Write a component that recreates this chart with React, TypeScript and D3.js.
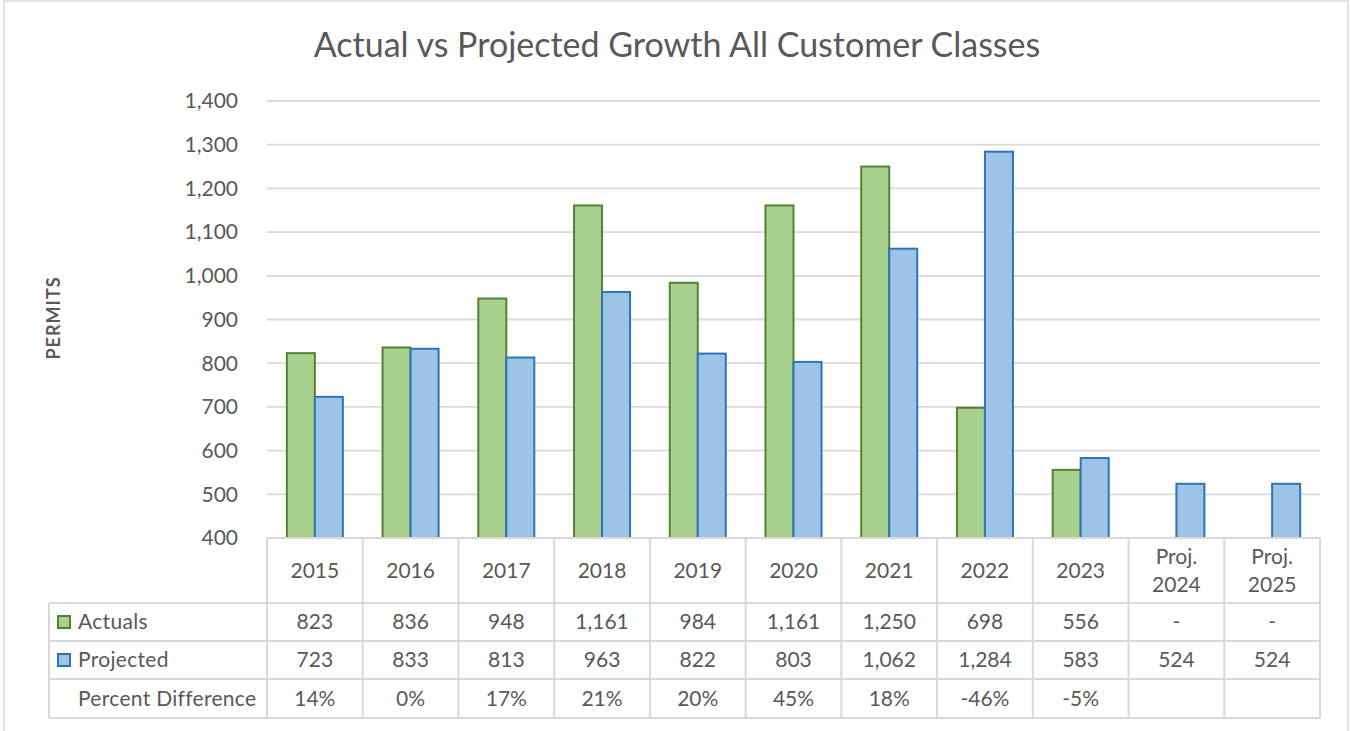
import React, { useEffect, useRef } from 'react';
import * as d3 from 'd3';

const categories = ['2015', '2016', '2017', '2018', '2019', '2020', '2021', '2022', '2023', 'Proj. 2024', 'Proj. 2025'];
const actuals: (number | null)[] = [823, 836, 948, 1161, 984, 1161, 1250, 698, 556, null, null];
const projected: number[] = [723, 833, 813, 963, 822, 803, 1062, 1284, 583, 524, 524];
const percentDiff = ['14%', '0%', '17%', '21%', '20%', '45%', '18%', '-46%', '-5%', '', ''];
const yTicks = [400, 500, 600, 700, 800, 900, 1000, 1100, 1200, 1300, 1400];
const seriesNames = ['Actuals', 'Projected'];

const W = 1351;
const H = 731;
const FONT = 'Lato, "Open Sans", sans-serif';
const TEXT = '#595959';
const LINE = '#D9D9D9';
const GREEN = { fill: '#A9D18E', stroke: '#548235' };
const BLUE = { fill: '#9DC3E6', stroke: '#2E75B6' };

const App: React.FC = () => {
  const svgRef = useRef<SVGSVGElement>(null);

  useEffect(() => {
    if (!svgRef.current) return;
    const svg = d3.select(svgRef.current);
    svg.selectAll('*').remove();

    const plot = { left: 267, right: 1320, top: 101, bottom: 538 };
    const rows = { header: 603, actuals: 641, projected: 679, percent: 718 };
    const tableLeft = 49;

    // outer chart frame
    svg.append('rect')
      .attr('x', 4).attr('y', 1)
      .attr('width', 1344).attr('height', H + 10)
      .attr('fill', '#fff')
      .attr('stroke', LINE)
      .attr('stroke-width', 1.5);

    const x = d3.scaleBand<string>()
      .domain(categories)
      .range([plot.left, plot.right])
      .paddingInner(0)
      .paddingOuter(0);
    const bw = x.bandwidth();
    const barW = bw * 0.2925;
    const xs = d3.scaleBand<string>()
      .domain(seriesNames)
      .range([bw / 2 - barW, bw / 2 + barW]);

    const y = d3.scaleLinear().domain([400, 1400]).range([plot.bottom, plot.top]);

    // title
    svg.append('text')
      .attr('x', 677).attr('y', 57)
      .attr('text-anchor', 'middle')
      .style('font-family', FONT)
      .style('font-size', '34px')
      .style('fill', TEXT)
      .text('Actual vs Projected Growth All Customer Classes');

    // gridlines
    svg.append('g')
      .selectAll('line')
      .data(yTicks.filter(t => t > 400))
      .enter()
      .append('line')
      .attr('x1', plot.left).attr('x2', plot.right)
      .attr('y1', d => y(d)).attr('y2', d => y(d))
      .attr('stroke', LINE)
      .attr('stroke-width', 1.8);

    // y tick labels
    svg.append('g')
      .selectAll('text')
      .data(yTicks)
      .enter()
      .append('text')
      .attr('x', 238)
      .attr('y', d => y(d))
      .attr('dy', '0.35em')
      .attr('text-anchor', 'end')
      .style('font-family', FONT)
      .style('font-size', '21px')
      .style('fill', TEXT)
      .text(d => d3.format(',')(d));

    // y axis title
    svg.append('text')
      .attr('transform', `translate(60, 318) rotate(-90)`)
      .attr('text-anchor', 'middle')
      .style('font-family', FONT)
      .style('font-size', '18px')
      .style('font-weight', 'bold')
      .style('fill', TEXT)
      .style('letter-spacing', '1px')
      .text('PERMITS');

    // bars
    const bars = svg.append('g');
    categories.forEach((c, i) => {
      const a = actuals[i];
      const p = projected[i];
      if (a !== null) {
        bars.append('rect')
          .attr('x', (x(c) || 0) + (xs('Actuals') || 0))
          .attr('y', y(a))
          .attr('width', xs.bandwidth())
          .attr('height', plot.bottom - y(a))
          .attr('fill', GREEN.fill)
          .attr('stroke', GREEN.stroke)
          .attr('stroke-width', 2);
      }
      bars.append('rect')
        .attr('x', (x(c) || 0) + (xs('Projected') || 0))
        .attr('y', y(p))
        .attr('width', xs.bandwidth())
        .attr('height', plot.bottom - y(p))
        .attr('fill', BLUE.fill)
        .attr('stroke', BLUE.stroke)
        .attr('stroke-width', 2);
    });

    // data table
    const table = svg.append('g');
    const hLines = [
      { y: plot.bottom, x1: plot.left },
      { y: rows.header, x1: tableLeft },
      { y: rows.actuals, x1: tableLeft },
      { y: rows.projected, x1: tableLeft },
      { y: rows.percent, x1: tableLeft },
    ];
    hLines.forEach(l => {
      table.append('line')
        .attr('x1', l.x1).attr('x2', plot.right)
        .attr('y1', l.y).attr('y2', l.y)
        .attr('stroke', LINE).attr('stroke-width', 2);
    });
    table.append('line')
      .attr('x1', tableLeft).attr('x2', tableLeft)
      .attr('y1', rows.header).attr('y2', rows.percent)
      .attr('stroke', LINE).attr('stroke-width', 2);
    [...categories.map(c => x(c) || 0), plot.right].forEach(vx => {
      table.append('line')
        .attr('x1', vx).attr('x2', vx)
        .attr('y1', plot.bottom).attr('y2', rows.percent)
        .attr('stroke', LINE).attr('stroke-width', 2);
    });

    const cellText = (tx: number, ty: number, s: string, anchor = 'middle', spacing = 0) =>
      table.append('text')
        .attr('x', tx).attr('y', ty)
        .attr('dy', '0.35em')
        .attr('text-anchor', anchor)
        .style('font-family', FONT)
        .style('font-size', '21px')
        .style('letter-spacing', `${spacing}px`)
        .style('fill', TEXT)
        .text(s);

    const mid = (a: number, b: number) => (a + b) / 2;
    const headerMid = mid(plot.bottom, rows.header);
    categories.forEach((c, i) => {
      const cx = (x(c) || 0) + bw / 2;
      if (c.startsWith('Proj.')) {
        const parts = c.split(' ');
        cellText(cx, headerMid - 14, parts[0]);
        cellText(cx, headerMid + 14, parts[1]);
      } else {
        cellText(cx, headerMid, c);
      }
      const a = actuals[i];
      cellText(cx, mid(rows.header, rows.actuals), a === null ? '-' : d3.format(',')(a));
      cellText(cx, mid(rows.actuals, rows.projected), d3.format(',')(projected[i]));
      cellText(cx, mid(rows.projected, rows.percent), percentDiff[i]);
    });

    // row labels with legend keys
    const rowLabels = [
      { name: 'Actuals', y0: rows.header, y1: rows.actuals, key: GREEN },
      { name: 'Projected', y0: rows.actuals, y1: rows.projected, key: BLUE },
      { name: 'Percent Difference', y0: rows.projected, y1: rows.percent, key: null },
    ];
    rowLabels.forEach(r => {
      const cy = mid(r.y0, r.y1);
      if (r.key) {
        table.append('rect')
          .attr('x', 58).attr('y', cy - 6)
          .attr('width', 12).attr('height', 12)
          .attr('fill', r.key.fill)
          .attr('stroke', r.key.stroke)
          .attr('stroke-width', 2);
      }
      cellText(78, cy, r.name, 'start', r.key ? 0.3 : 0.3);
    });
  }, []);

  return (
    <svg
      ref={svgRef}
      width={W}
      height={H}
      style={{ position: 'fixed', left: 0, top: 0, background: '#fff' }}
    />
  );
};

export default App;
